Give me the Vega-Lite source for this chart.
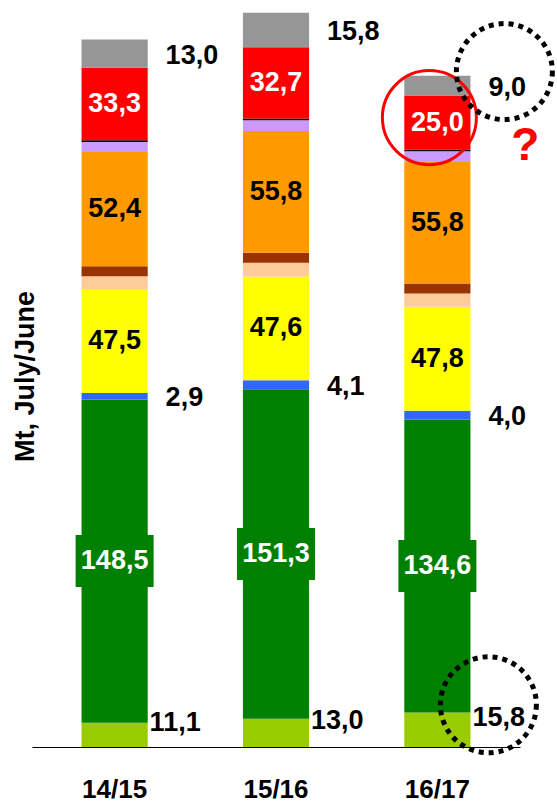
{
  "$schema": "https://vega.github.io/schema/vega-lite/v6.json",
  "width": 488,
  "height": 747,
  "autosize": {"type": "none"},
  "padding": {"left": 32, "top": 0, "right": 37, "bottom": 55},
  "background": "white",
  "config": {
    "view": {"stroke": null},
    "font": "Liberation Sans",
    "locale": {"number": {"decimal": ",", "thousands": ".", "grouping": [3], "currency": ["", " €"]}}
  },
  "data": {
    "values": [
      {"year": "14/15", "series": "c01", "value": 11.1},
      {"year": "14/15", "series": "c02", "value": 148.5},
      {"year": "14/15", "series": "c03", "value": 2.9},
      {"year": "14/15", "series": "c04", "value": 47.5},
      {"year": "14/15", "series": "c05", "value": 6.2},
      {"year": "14/15", "series": "c06", "value": 4.6},
      {"year": "14/15", "series": "c07", "value": 52.4},
      {"year": "14/15", "series": "c08", "value": 4.6},
      {"year": "14/15", "series": "c09", "value": 0.8},
      {"year": "14/15", "series": "c10", "value": 33.3},
      {"year": "14/15", "series": "c11", "value": 13.0},
      {"year": "15/16", "series": "c01", "value": 13.0},
      {"year": "15/16", "series": "c02", "value": 151.3},
      {"year": "15/16", "series": "c03", "value": 4.1},
      {"year": "15/16", "series": "c04", "value": 47.6},
      {"year": "15/16", "series": "c05", "value": 6.4},
      {"year": "15/16", "series": "c06", "value": 4.6},
      {"year": "15/16", "series": "c07", "value": 55.8},
      {"year": "15/16", "series": "c08", "value": 5.0},
      {"year": "15/16", "series": "c09", "value": 0.8},
      {"year": "15/16", "series": "c10", "value": 32.7},
      {"year": "15/16", "series": "c11", "value": 15.8},
      {"year": "16/17", "series": "c01", "value": 15.8},
      {"year": "16/17", "series": "c02", "value": 134.6},
      {"year": "16/17", "series": "c03", "value": 4.0},
      {"year": "16/17", "series": "c04", "value": 47.8},
      {"year": "16/17", "series": "c05", "value": 6.0},
      {"year": "16/17", "series": "c06", "value": 4.6},
      {"year": "16/17", "series": "c07", "value": 55.8},
      {"year": "16/17", "series": "c08", "value": 5.0},
      {"year": "16/17", "series": "c09", "value": 0.6},
      {"year": "16/17", "series": "c10", "value": 25.0},
      {"year": "16/17", "series": "c11", "value": 9.0}
    ]
  },
  "transform": [
    {"stack": "value", "groupby": ["year"], "sort": [{"field": "series", "order": "ascending"}], "as": ["v0", "v1"]},
    {"calculate": "(datum.v0 + datum.v1) / 2", "as": "mid"}
  ],
  "encoding": {
    "x": {
      "field": "year", "type": "nominal",
      "scale": {"paddingInner": 0.59, "paddingOuter": 0.307},
      "axis": {
        "title": null, "labelAngle": 0, "ticks": false, "grid": false,
        "domain": true, "domainColor": "#000000", "domainWidth": 1.2,
        "labelFont": "Liberation Sans", "labelFontWeight": "bold", "labelFontSize": 26,
        "labelColor": "#000000", "labelPadding": 29
      }
    }
  },
  "layer": [
    {
      "mark": {"type": "bar", "width": {"band": 1}},
      "encoding": {
        "y": {
          "field": "v1", "type": "quantitative",
          "scale": {"domain": [0, 343], "nice": false, "zero": true},
          "axis": {
            "title": "Mt, July/June", "labels": false, "ticks": false, "domain": false, "grid": false,
            "titleFont": "Liberation Sans", "titleFontWeight": "bold", "titleFontSize": 27, "titleColor": "#000000",
            "titleAngle": -90, "titleX": -7, "titleY": 376, "titleAlign": "center", "titleBaseline": "middle"
          }
        },
        "y2": {"field": "v0"},
        "color": {
          "field": "series", "type": "nominal", "legend": null,
          "scale": {
            "domain": ["c01", "c02", "c03", "c04", "c05", "c06", "c07", "c08", "c09", "c10", "c11"],
            "range": ["#99CC00", "#008000", "#3366FF", "#FFFF00", "#FFCC99", "#993300", "#FF9900", "#CC99FF", "#000000", "#FF0000", "#969696"]
          }
        }
      }
    },
    {
      "transform": [{"filter": "datum.series == 'c02'"}],
      "mark": {"type": "point", "shape": "M-1.5,-1H1.5V1H-1.5Z", "filled": true, "fill": "#008000", "opacity": 1, "strokeWidth": 0, "size": 2704},
      "encoding": {"y": {"field": "mid", "type": "quantitative"}}
    },
    {
      "transform": [{"filter": "datum.series == 'c02' || datum.series == 'c10'"}],
      "mark": {"type": "text", "font": "Liberation Sans", "fontWeight": "bold", "fontSize": 27, "fill": "#FFFFFF", "align": "center", "baseline": "middle"},
      "encoding": {
        "y": {"field": "mid", "type": "quantitative"},
        "text": {"field": "value", "type": "quantitative", "format": ".1f"}
      }
    },
    {
      "transform": [{"filter": "datum.series == 'c04' || datum.series == 'c07'"}],
      "mark": {"type": "text", "font": "Liberation Sans", "fontWeight": "bold", "fontSize": 27, "fill": "#000000", "align": "center", "baseline": "middle"},
      "encoding": {
        "y": {"field": "mid", "type": "quantitative"},
        "text": {"field": "value", "type": "quantitative", "format": ".1f"}
      }
    },
    {
      "transform": [{"filter": "datum.series == 'c03' || datum.series == 'c11'"}],
      "mark": {"type": "text", "font": "Liberation Sans", "fontWeight": "bold", "fontSize": 27, "fill": "#000000", "align": "left", "baseline": "middle", "dx": 51, "dy": 2},
      "encoding": {
        "y": {"field": "mid", "type": "quantitative"},
        "text": {"field": "value", "type": "quantitative", "format": ".1f"}
      }
    },
    {
      "transform": [{"filter": "datum.series == 'c01'"}],
      "mark": {"type": "text", "font": "Liberation Sans", "fontWeight": "bold", "fontSize": 27, "fill": "#000000", "align": "left", "baseline": "middle", "dx": 35, "dy": -12},
      "encoding": {
        "y": {"field": "mid", "type": "quantitative"},
        "text": {"field": "value", "type": "quantitative", "format": ".1f"}
      }
    },
    {
      "transform": [{"filter": "datum.year == '16/17' && datum.series == 'c10'"}],
      "mark": {"type": "point", "shape": "circle", "filled": false, "stroke": "#FF0000", "strokeWidth": 3, "opacity": 1, "size": 8836, "xOffset": -8, "yOffset": -5},
      "encoding": {"y": {"field": "mid", "type": "quantitative"}}
    },
    {
      "transform": [{"filter": "datum.year == '16/17' && datum.series == 'c11'"}],
      "mark": {"type": "point", "shape": "circle", "filled": false, "stroke": "#000000", "strokeWidth": 5, "strokeDash": [5, 5], "opacity": 1, "size": 9216, "xOffset": 67, "yOffset": -14},
      "encoding": {"y": {"field": "mid", "type": "quantitative"}}
    },
    {
      "transform": [{"filter": "datum.year == '16/17' && datum.series == 'c01'"}],
      "mark": {"type": "point", "shape": "circle", "filled": false, "stroke": "#000000", "strokeWidth": 5, "strokeDash": [5, 5], "opacity": 1, "size": 9216, "xOffset": 51, "yOffset": -25},
      "encoding": {"y": {"field": "mid", "type": "quantitative"}}
    },
    {
      "transform": [{"filter": "datum.year == '16/17' && datum.series == 'c11'"}],
      "mark": {"type": "text", "text": "?", "font": "Liberation Sans", "fontWeight": "bold", "fontSize": 46, "fill": "#FF0000", "align": "center", "baseline": "middle", "dx": 88, "dy": 60},
      "encoding": {"y": {"field": "mid", "type": "quantitative"}}
    }
  ]
}
